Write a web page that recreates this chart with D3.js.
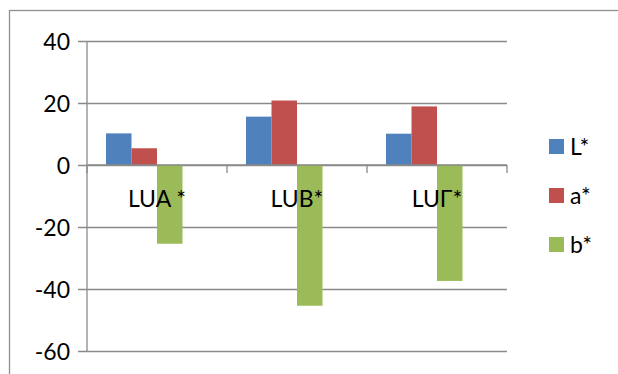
<!DOCTYPE html>
<html>
<head>
<meta charset="utf-8">
<script src="https://cdn.jsdelivr.net/npm/d3@7"></script>
<style>
  html, body { margin: 0; padding: 0; background: #fff; }
  svg { display: block; font-family: Lato, "Open Sans", sans-serif; }
</style>
</head>
<body>
<svg id="chart" width="618" height="374"></svg>
<script>
// Categories and CIE L*a*b* values per sample
const categories = ["LUA *", "LUB*", "LUΓ*"];
const seriesNames = ["L*", "a*", "b*"];
const Lvalues = [10.2, 15.6, 10.1];
const aValues = [5.4, 20.8, 18.9];
const bValues = [-25.4, -45.4, -37.4];
const yTicks = [40, 20, 0, -20, -40, -60];
const colors = ["#4F81BD", "#C0504D", "#9BBB59"];

const series = [Lvalues, aValues, bValues];

const svg = d3.select("#chart");
const W = 618, H = 374;
const grid = "#8a8a8a";

// Outer chart frame
svg.append("rect")
  .attr("x", 9.5).attr("y", 10.5)
  .attr("width", W + 10).attr("height", H + 10)
  .attr("fill", "none").attr("stroke", "#8f8f8f").attr("stroke-width", 1.3);

const plot = { left: 87, right: 507, top: 41, bottom: 351 };

const y = d3.scaleLinear().domain([-60, 40]).range([plot.bottom, plot.top]);
const x0 = d3.scaleBand().domain(categories).range([plot.left, plot.right]).paddingInner(0).paddingOuter(0);
// Each cluster reserves four bar slots; the last slot stays empty
const slots = seriesNames.concat(["_spare"]);
const clusterW = 102;
const x1 = d3.scaleBand().domain(slots).range([0, clusterW]);

// Horizontal gridlines with left tick marks
const yAxis = d3.axisLeft(y).tickValues(yTicks).tickSize(-(plot.right - plot.left)).tickPadding(17).tickFormat(d => String(d));
const gy = svg.append("g").attr("transform", `translate(${plot.left},0)`).call(yAxis);
gy.select(".domain").remove();
gy.selectAll(".tick line").attr("stroke", grid).attr("stroke-width", 1.3).attr("x1", -9);
gy.selectAll(".tick text")
  .attr("fill", "#000").attr("font-size", 23).attr("font-family", "Lato, sans-serif")
  .attr("dy", "0.36em");

// Vertical value axis line
svg.append("line")
  .attr("x1", plot.left).attr("x2", plot.left)
  .attr("y1", plot.top).attr("y2", plot.bottom)
  .attr("stroke", grid).attr("stroke-width", 1.3);

// Bars
categories.forEach((c, i) => {
  const gx = x0(c) + (x0.bandwidth() - clusterW) / 2;
  series.forEach((vals, s) => {
    const v = vals[i];
    svg.append("rect")
      .attr("x", gx + x1(seriesNames[s]))
      .attr("width", x1.bandwidth())
      .attr("y", y(Math.max(0, v)))
      .attr("height", Math.abs(y(v) - y(0)))
      .attr("fill", colors[s]);
  });
});

// Category axis at zero with tick marks between categories
svg.append("line")
  .attr("x1", plot.left).attr("x2", plot.right)
  .attr("y1", y(0)).attr("y2", y(0))
  .attr("stroke", grid).attr("stroke-width", 1.3);
const boundaries = categories.map(c => x0(c)).concat([plot.right]);
svg.selectAll(".cattick").data(boundaries).join("line")
  .attr("class", "cattick")
  .attr("x1", d => d).attr("x2", d => d)
  .attr("y1", y(0)).attr("y2", y(0) + 8)
  .attr("stroke", grid).attr("stroke-width", 1.3);

// Category labels drawn above the bars
svg.selectAll(".catlabel").data(categories).join("text")
  .attr("class", "catlabel")
  .attr("x", d => x0(d) + x0.bandwidth() / 2)
  .attr("y", 207)
  .attr("text-anchor", "middle")
  .attr("font-size", 23)
  .attr("fill", "#000")
  .text(d => d);

// Legend
const legend = svg.append("g");
seriesNames.forEach((n, i) => {
  const ly = 139 + i * 49;
  legend.append("rect")
    .attr("x", 549).attr("y", ly).attr("width", 15).attr("height", 15)
    .attr("fill", colors[i]);
  legend.append("text")
    .attr("x", 570).attr("y", ly + 16)
    .attr("font-size", 23).attr("fill", "#000")
    .text(n);
});
</script>
</body>
</html>
